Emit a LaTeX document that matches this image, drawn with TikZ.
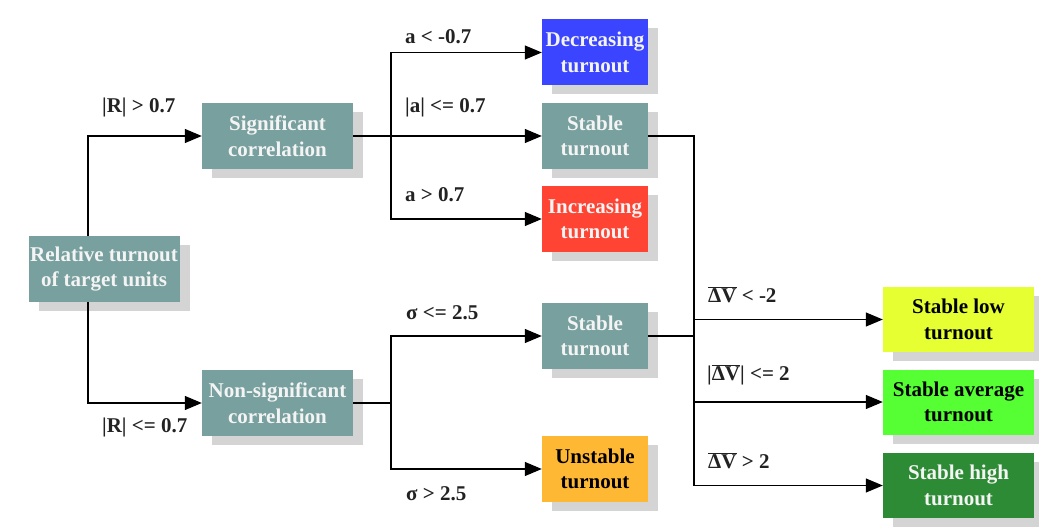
\documentclass[tikz,border=0pt]{standalone}
\usepackage{fontspec}
\setmainfont{Liberation Serif}
\usetikzlibrary{arrows.meta,shadows}
\definecolor{teal1}{HTML}{77A09E}
\definecolor{blue1}{HTML}{3B45FF}
\definecolor{red1}{HTML}{FF4433}
\definecolor{orange1}{HTML}{FFB833}
\definecolor{yellow1}{HTML}{E6FF33}
\definecolor{green1}{HTML}{55FF33}
\definecolor{dgreen1}{HTML}{2E8B35}
\definecolor{shade1}{HTML}{D4D4D4}
\definecolor{wtext}{HTML}{F4F4F4}
\definecolor{ltext}{HTML}{222222}
\tikzset{
  box/.style={rectangle, inner sep=0pt, align=center, font=\fontsize{21}{25.5}\selectfont\bfseries,
    drop shadow={shadow xshift=10pt, shadow yshift=-9pt, fill=shade1, opacity=1}},
  wide/.style={box, minimum width=151pt, minimum height=66pt},
  narrow/.style={box, minimum width=106pt, minimum height=66pt},
  lab/.style={anchor=west, inner sep=0pt, text=ltext, font=\fontsize{21}{24}\selectfont\bfseries},
  conn/.style={line width=1.2pt, black},
  arr/.style={conn, -{Triangle[length=17pt,width=14pt]}}
}
\begin{document}
\begin{tikzpicture}[x=1pt,y=-1pt]
\useasboundingbox (0,0) rectangle (1039,529);
\node[wide, fill=teal1, text=wtext] (root) at (104,269) {Relative turnout\\of target units};
\node[wide, fill=teal1, text=wtext] (sig) at (277.5,136) {Significant\\correlation};
\node[wide, fill=teal1, text=wtext] (non) at (277.5,403) {Non-significant\\correlation};
\node[narrow, fill=blue1, text=wtext] (dec) at (595,52.5) {Decreasing\\turnout};
\node[narrow, fill=teal1, text=wtext] (st1) at (595,136) {Stable\\turnout};
\node[narrow, fill=red1, text=wtext] (inc) at (595,219) {Increasing\\turnout};
\node[narrow, fill=teal1, text=wtext] (st2) at (595,336) {Stable\\turnout};
\node[narrow, fill=orange1, text=black] (uns) at (595,469) {Unstable\\turnout};
\node[wide, minimum height=65pt, fill=yellow1, text=black] (low) at (958.5,319.5) {Stable low\\turnout};
\node[wide, minimum height=65pt, fill=green1, text=black] (avg) at (958.5,402) {Stable average\\turnout};
\node[wide, minimum height=65pt, fill=dgreen1, text=wtext] (high) at (958.5,485.5) {Stable high\\turnout};

\coordinate (r1) at (88,0);
\coordinate (b1) at (391,0);
\coordinate (b2) at (694,0);

\draw[arr] (root.north -| r1) |- (sig.west);
\draw[arr] (root.south -| r1) |- (non.west);

\draw[arr] (sig.east) -- (st1.west);
\draw[arr] (sig.east -| b1) |- (dec.west);
\draw[arr] (sig.east -| b1) |- (inc.west);

\draw[conn] (non.east) -- (non.east -| b1);
\draw[arr] (non.east -| b1) |- (st2.west);
\draw[arr] (non.east -| b1) |- (uns.west);

\draw[conn] (st1.east) -- (st1.east -| b2) -- (b2 |- high.west);
\draw[conn] (st2.east) -- (st2.east -| b2);
\draw[arr] (b2 |- low.west) -- (low.west);
\draw[arr] (b2 |- avg.west) -- (avg.west);
\draw[arr] (b2 |- high.west) -- (high.west);

\node[lab] (l1) at (102,107) {|R| > 0.7};
\node[lab] (l2) at (102,427) {|R| <= 0.7};
\node[lab] (l3) at (405,37) {a < -0.7};
\node[lab] (l4) at (405,107) {|a| <= 0.7};
\node[lab] (l5) at (405,195) {a > 0.7};
\node[lab] (l6) at (406,313) {σ <= 2.5};
\node[lab] (l7) at (406,494) {σ > 2.5};
\node[lab] (l8) at (708,295) {$\overline{\hbox{ΔV}}$ < -2};
\node[lab] (l9) at (707,375) {|$\overline{\hbox{ΔV}}$| <= 2};
\node[lab] (l10) at (708,461) {$\overline{\hbox{ΔV}}$ > 2};
\end{tikzpicture}
\end{document}
